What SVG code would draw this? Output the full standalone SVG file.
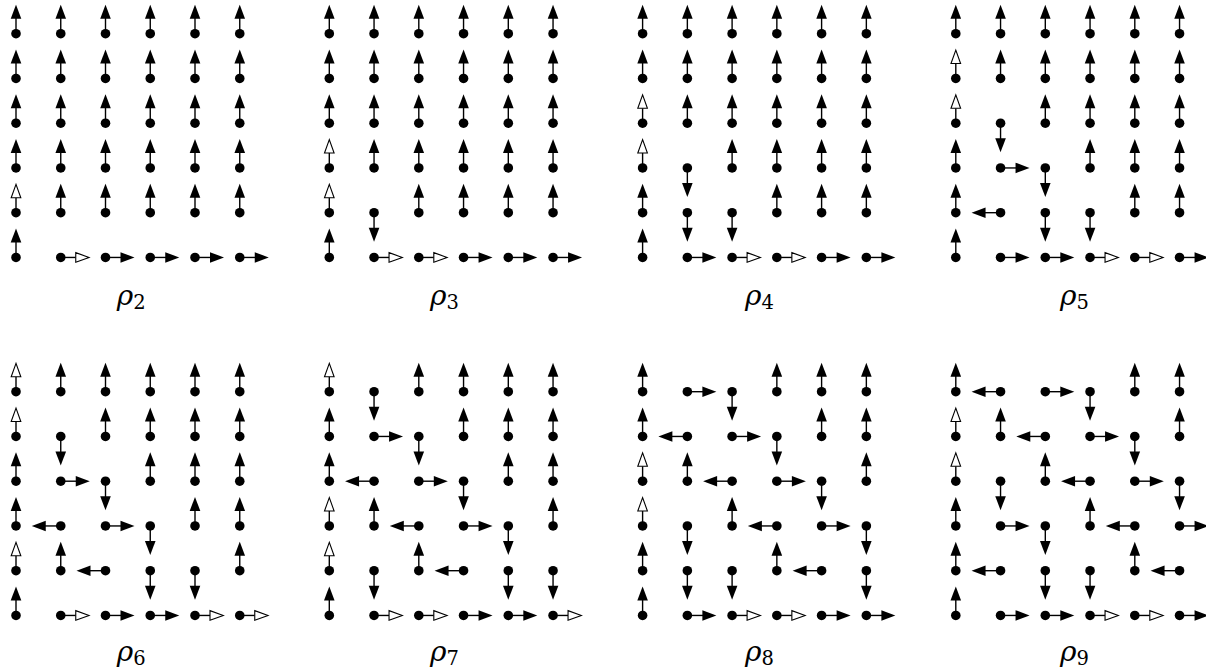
<svg xmlns="http://www.w3.org/2000/svg" xmlns:xlink="http://www.w3.org/1999/xlink" width="1206" height="672" viewBox="0 0 1206 672">
<style>
.s{stroke:#000;stroke-width:1.4;fill:none}
.f{fill:#000;stroke:none}
.h{fill:#fff;stroke:#000;stroke-width:1.1;stroke-linejoin:miter}
.lbl{font-family:"DejaVu Serif","Liberation Serif",serif;font-style:italic;font-size:28px;fill:#000}
.sub{font-family:"DejaVu Serif","Liberation Serif",serif;font-style:normal;font-size:19.5px}
</style>
<defs>
<g id="U"><line class="s" x1="0" y1="0" x2="0" y2="-16"/><polygon class="f" points="0,-29 -5.3,-15 5.3,-15"/><circle class="f" r="4.8"/></g>
<g id="u"><line class="s" x1="0" y1="0" x2="0" y2="-15"/><polygon class="h" points="0,-28.3 -4.8,-15 4.8,-15"/><circle class="f" r="4.8"/></g>
<g id="D"><line class="s" x1="0" y1="0" x2="0" y2="16"/><polygon class="f" points="0,29 -5.3,15 5.3,15"/><circle class="f" r="4.8"/></g>
<g id="R"><line class="s" x1="0" y1="0" x2="16" y2="0"/><polygon class="f" points="29,0 15,-5.3 15,5.3"/><circle class="f" r="4.8"/></g>
<g id="r"><line class="s" x1="0" y1="0" x2="15" y2="0"/><polygon class="h" points="28.3,0 15,-4.8 15,4.8"/><circle class="f" r="4.8"/></g>
<g id="L"><line class="s" x1="0" y1="0" x2="-16" y2="0"/><polygon class="f" points="-29,0 -15,-5.3 -15,5.3"/><circle class="f" r="4.8"/></g>
</defs>

<g id="panel-rho2" transform="translate(16,33.7)">
<use href="#U" x="0" y="0"/><use href="#U" x="44.75" y="0"/><use href="#U" x="89.5" y="0"/><use href="#U" x="134.25" y="0"/><use href="#U" x="179" y="0"/><use href="#U" x="223.75" y="0"/>
<use href="#U" x="0" y="44.75"/><use href="#U" x="44.75" y="44.75"/><use href="#U" x="89.5" y="44.75"/><use href="#U" x="134.25" y="44.75"/><use href="#U" x="179" y="44.75"/><use href="#U" x="223.75" y="44.75"/>
<use href="#U" x="0" y="89.5"/><use href="#U" x="44.75" y="89.5"/><use href="#U" x="89.5" y="89.5"/><use href="#U" x="134.25" y="89.5"/><use href="#U" x="179" y="89.5"/><use href="#U" x="223.75" y="89.5"/>
<use href="#U" x="0" y="134.25"/><use href="#U" x="44.75" y="134.25"/><use href="#U" x="89.5" y="134.25"/><use href="#U" x="134.25" y="134.25"/><use href="#U" x="179" y="134.25"/><use href="#U" x="223.75" y="134.25"/>
<use href="#u" x="0" y="179"/><use href="#U" x="44.75" y="179"/><use href="#U" x="89.5" y="179"/><use href="#U" x="134.25" y="179"/><use href="#U" x="179" y="179"/><use href="#U" x="223.75" y="179"/>
<use href="#U" x="0" y="223.75"/><use href="#r" x="44.75" y="223.75"/><use href="#R" x="89.5" y="223.75"/><use href="#R" x="134.25" y="223.75"/><use href="#R" x="179" y="223.75"/><use href="#R" x="223.75" y="223.75"/>
</g>

<g id="panel-rho3" transform="translate(329.3,33.7)">
<use href="#U" x="0" y="0"/><use href="#U" x="44.75" y="0"/><use href="#U" x="89.5" y="0"/><use href="#U" x="134.25" y="0"/><use href="#U" x="179" y="0"/><use href="#U" x="223.75" y="0"/>
<use href="#U" x="0" y="44.75"/><use href="#U" x="44.75" y="44.75"/><use href="#U" x="89.5" y="44.75"/><use href="#U" x="134.25" y="44.75"/><use href="#U" x="179" y="44.75"/><use href="#U" x="223.75" y="44.75"/>
<use href="#U" x="0" y="89.5"/><use href="#U" x="44.75" y="89.5"/><use href="#U" x="89.5" y="89.5"/><use href="#U" x="134.25" y="89.5"/><use href="#U" x="179" y="89.5"/><use href="#U" x="223.75" y="89.5"/>
<use href="#u" x="0" y="134.25"/><use href="#U" x="44.75" y="134.25"/><use href="#U" x="89.5" y="134.25"/><use href="#U" x="134.25" y="134.25"/><use href="#U" x="179" y="134.25"/><use href="#U" x="223.75" y="134.25"/>
<use href="#u" x="0" y="179"/><use href="#D" x="44.75" y="179"/><use href="#U" x="89.5" y="179"/><use href="#U" x="134.25" y="179"/><use href="#U" x="179" y="179"/><use href="#U" x="223.75" y="179"/>
<use href="#U" x="0" y="223.75"/><use href="#r" x="44.75" y="223.75"/><use href="#r" x="89.5" y="223.75"/><use href="#R" x="134.25" y="223.75"/><use href="#R" x="179" y="223.75"/><use href="#R" x="223.75" y="223.75"/>
</g>

<g id="panel-rho4" transform="translate(642.6,33.7)">
<use href="#U" x="0" y="0"/><use href="#U" x="44.75" y="0"/><use href="#U" x="89.5" y="0"/><use href="#U" x="134.25" y="0"/><use href="#U" x="179" y="0"/><use href="#U" x="223.75" y="0"/>
<use href="#U" x="0" y="44.75"/><use href="#U" x="44.75" y="44.75"/><use href="#U" x="89.5" y="44.75"/><use href="#U" x="134.25" y="44.75"/><use href="#U" x="179" y="44.75"/><use href="#U" x="223.75" y="44.75"/>
<use href="#u" x="0" y="89.5"/><use href="#U" x="44.75" y="89.5"/><use href="#U" x="89.5" y="89.5"/><use href="#U" x="134.25" y="89.5"/><use href="#U" x="179" y="89.5"/><use href="#U" x="223.75" y="89.5"/>
<use href="#u" x="0" y="134.25"/><use href="#D" x="44.75" y="134.25"/><use href="#U" x="89.5" y="134.25"/><use href="#U" x="134.25" y="134.25"/><use href="#U" x="179" y="134.25"/><use href="#U" x="223.75" y="134.25"/>
<use href="#U" x="0" y="179"/><use href="#D" x="44.75" y="179"/><use href="#D" x="89.5" y="179"/><use href="#U" x="134.25" y="179"/><use href="#U" x="179" y="179"/><use href="#U" x="223.75" y="179"/>
<use href="#U" x="0" y="223.75"/><use href="#R" x="44.75" y="223.75"/><use href="#r" x="89.5" y="223.75"/><use href="#r" x="134.25" y="223.75"/><use href="#R" x="179" y="223.75"/><use href="#R" x="223.75" y="223.75"/>
</g>

<g id="panel-rho5" transform="translate(955.8,33.7)">
<use href="#U" x="0" y="0"/><use href="#U" x="44.75" y="0"/><use href="#U" x="89.5" y="0"/><use href="#U" x="134.25" y="0"/><use href="#U" x="179" y="0"/><use href="#U" x="223.75" y="0"/>
<use href="#u" x="0" y="44.75"/><use href="#U" x="44.75" y="44.75"/><use href="#U" x="89.5" y="44.75"/><use href="#U" x="134.25" y="44.75"/><use href="#U" x="179" y="44.75"/><use href="#U" x="223.75" y="44.75"/>
<use href="#u" x="0" y="89.5"/><use href="#D" x="44.75" y="89.5"/><use href="#U" x="89.5" y="89.5"/><use href="#U" x="134.25" y="89.5"/><use href="#U" x="179" y="89.5"/><use href="#U" x="223.75" y="89.5"/>
<use href="#U" x="0" y="134.25"/><use href="#R" x="44.75" y="134.25"/><use href="#D" x="89.5" y="134.25"/><use href="#U" x="134.25" y="134.25"/><use href="#U" x="179" y="134.25"/><use href="#U" x="223.75" y="134.25"/>
<use href="#U" x="0" y="179"/><use href="#L" x="44.75" y="179"/><use href="#D" x="89.5" y="179"/><use href="#D" x="134.25" y="179"/><use href="#U" x="179" y="179"/><use href="#U" x="223.75" y="179"/>
<use href="#U" x="0" y="223.75"/><use href="#R" x="44.75" y="223.75"/><use href="#R" x="89.5" y="223.75"/><use href="#r" x="134.25" y="223.75"/><use href="#r" x="179" y="223.75"/><use href="#R" x="223.75" y="223.75"/>
</g>

<g id="panel-rho6" transform="translate(16,391.7)">
<use href="#u" x="0" y="0"/><use href="#U" x="44.75" y="0"/><use href="#U" x="89.5" y="0"/><use href="#U" x="134.25" y="0"/><use href="#U" x="179" y="0"/><use href="#U" x="223.75" y="0"/>
<use href="#u" x="0" y="44.75"/><use href="#D" x="44.75" y="44.75"/><use href="#U" x="89.5" y="44.75"/><use href="#U" x="134.25" y="44.75"/><use href="#U" x="179" y="44.75"/><use href="#U" x="223.75" y="44.75"/>
<use href="#U" x="0" y="89.5"/><use href="#R" x="44.75" y="89.5"/><use href="#D" x="89.5" y="89.5"/><use href="#U" x="134.25" y="89.5"/><use href="#U" x="179" y="89.5"/><use href="#U" x="223.75" y="89.5"/>
<use href="#U" x="0" y="134.25"/><use href="#L" x="44.75" y="134.25"/><use href="#R" x="89.5" y="134.25"/><use href="#D" x="134.25" y="134.25"/><use href="#U" x="179" y="134.25"/><use href="#U" x="223.75" y="134.25"/>
<use href="#u" x="0" y="179"/><use href="#U" x="44.75" y="179"/><use href="#L" x="89.5" y="179"/><use href="#D" x="134.25" y="179"/><use href="#D" x="179" y="179"/><use href="#U" x="223.75" y="179"/>
<use href="#U" x="0" y="223.75"/><use href="#r" x="44.75" y="223.75"/><use href="#R" x="89.5" y="223.75"/><use href="#R" x="134.25" y="223.75"/><use href="#r" x="179" y="223.75"/><use href="#r" x="223.75" y="223.75"/>
</g>

<g id="panel-rho7" transform="translate(329.3,391.7)">
<use href="#u" x="0" y="0"/><use href="#D" x="44.75" y="0"/><use href="#U" x="89.5" y="0"/><use href="#U" x="134.25" y="0"/><use href="#U" x="179" y="0"/><use href="#U" x="223.75" y="0"/>
<use href="#U" x="0" y="44.75"/><use href="#R" x="44.75" y="44.75"/><use href="#D" x="89.5" y="44.75"/><use href="#U" x="134.25" y="44.75"/><use href="#U" x="179" y="44.75"/><use href="#U" x="223.75" y="44.75"/>
<use href="#U" x="0" y="89.5"/><use href="#L" x="44.75" y="89.5"/><use href="#R" x="89.5" y="89.5"/><use href="#D" x="134.25" y="89.5"/><use href="#U" x="179" y="89.5"/><use href="#U" x="223.75" y="89.5"/>
<use href="#u" x="0" y="134.25"/><use href="#U" x="44.75" y="134.25"/><use href="#L" x="89.5" y="134.25"/><use href="#R" x="134.25" y="134.25"/><use href="#D" x="179" y="134.25"/><use href="#U" x="223.75" y="134.25"/>
<use href="#u" x="0" y="179"/><use href="#D" x="44.75" y="179"/><use href="#U" x="89.5" y="179"/><use href="#L" x="134.25" y="179"/><use href="#D" x="179" y="179"/><use href="#D" x="223.75" y="179"/>
<use href="#U" x="0" y="223.75"/><use href="#r" x="44.75" y="223.75"/><use href="#r" x="89.5" y="223.75"/><use href="#R" x="134.25" y="223.75"/><use href="#R" x="179" y="223.75"/><use href="#r" x="223.75" y="223.75"/>
</g>

<g id="panel-rho8" transform="translate(642.6,391.7)">
<use href="#U" x="0" y="0"/><use href="#R" x="44.75" y="0"/><use href="#D" x="89.5" y="0"/><use href="#U" x="134.25" y="0"/><use href="#U" x="179" y="0"/><use href="#U" x="223.75" y="0"/>
<use href="#U" x="0" y="44.75"/><use href="#L" x="44.75" y="44.75"/><use href="#R" x="89.5" y="44.75"/><use href="#D" x="134.25" y="44.75"/><use href="#U" x="179" y="44.75"/><use href="#U" x="223.75" y="44.75"/>
<use href="#u" x="0" y="89.5"/><use href="#U" x="44.75" y="89.5"/><use href="#L" x="89.5" y="89.5"/><use href="#R" x="134.25" y="89.5"/><use href="#D" x="179" y="89.5"/><use href="#U" x="223.75" y="89.5"/>
<use href="#u" x="0" y="134.25"/><use href="#D" x="44.75" y="134.25"/><use href="#U" x="89.5" y="134.25"/><use href="#L" x="134.25" y="134.25"/><use href="#R" x="179" y="134.25"/><use href="#D" x="223.75" y="134.25"/>
<use href="#U" x="0" y="179"/><use href="#D" x="44.75" y="179"/><use href="#D" x="89.5" y="179"/><use href="#U" x="134.25" y="179"/><use href="#L" x="179" y="179"/><use href="#D" x="223.75" y="179"/>
<use href="#U" x="0" y="223.75"/><use href="#R" x="44.75" y="223.75"/><use href="#r" x="89.5" y="223.75"/><use href="#r" x="134.25" y="223.75"/><use href="#R" x="179" y="223.75"/><use href="#R" x="223.75" y="223.75"/>
</g>

<g id="panel-rho9" transform="translate(955.8,391.7)">
<use href="#U" x="0" y="0"/><use href="#L" x="44.75" y="0"/><use href="#R" x="89.5" y="0"/><use href="#D" x="134.25" y="0"/><use href="#U" x="179" y="0"/><use href="#U" x="223.75" y="0"/>
<use href="#u" x="0" y="44.75"/><use href="#U" x="44.75" y="44.75"/><use href="#L" x="89.5" y="44.75"/><use href="#R" x="134.25" y="44.75"/><use href="#D" x="179" y="44.75"/><use href="#U" x="223.75" y="44.75"/>
<use href="#u" x="0" y="89.5"/><use href="#D" x="44.75" y="89.5"/><use href="#U" x="89.5" y="89.5"/><use href="#L" x="134.25" y="89.5"/><use href="#R" x="179" y="89.5"/><use href="#D" x="223.75" y="89.5"/>
<use href="#U" x="0" y="134.25"/><use href="#R" x="44.75" y="134.25"/><use href="#D" x="89.5" y="134.25"/><use href="#U" x="134.25" y="134.25"/><use href="#L" x="179" y="134.25"/><use href="#R" x="223.75" y="134.25"/>
<use href="#U" x="0" y="179"/><use href="#L" x="44.75" y="179"/><use href="#D" x="89.5" y="179"/><use href="#D" x="134.25" y="179"/><use href="#U" x="179" y="179"/><use href="#L" x="223.75" y="179"/>
<use href="#U" x="0" y="223.75"/><use href="#R" x="44.75" y="223.75"/><use href="#R" x="89.5" y="223.75"/><use href="#r" x="134.25" y="223.75"/><use href="#r" x="179" y="223.75"/><use href="#R" x="223.75" y="223.75"/>
</g>

<g id="labels">
<text class="lbl" x="116.7" y="305">ρ<tspan class="sub" dy="4.3">2</tspan></text>
<text class="lbl" x="430" y="305">ρ<tspan class="sub" dy="4.3">3</tspan></text>
<text class="lbl" x="745" y="305">ρ<tspan class="sub" dy="4.3">4</tspan></text>
<text class="lbl" x="1060" y="305">ρ<tspan class="sub" dy="4.3">5</tspan></text>
<text class="lbl" x="116.7" y="661">ρ<tspan class="sub" dy="4.3">6</tspan></text>
<text class="lbl" x="430" y="661">ρ<tspan class="sub" dy="4.3">7</tspan></text>
<text class="lbl" x="745" y="661">ρ<tspan class="sub" dy="4.3">8</tspan></text>
<text class="lbl" x="1060" y="661">ρ<tspan class="sub" dy="4.3">9</tspan></text>
</g>
</svg>
